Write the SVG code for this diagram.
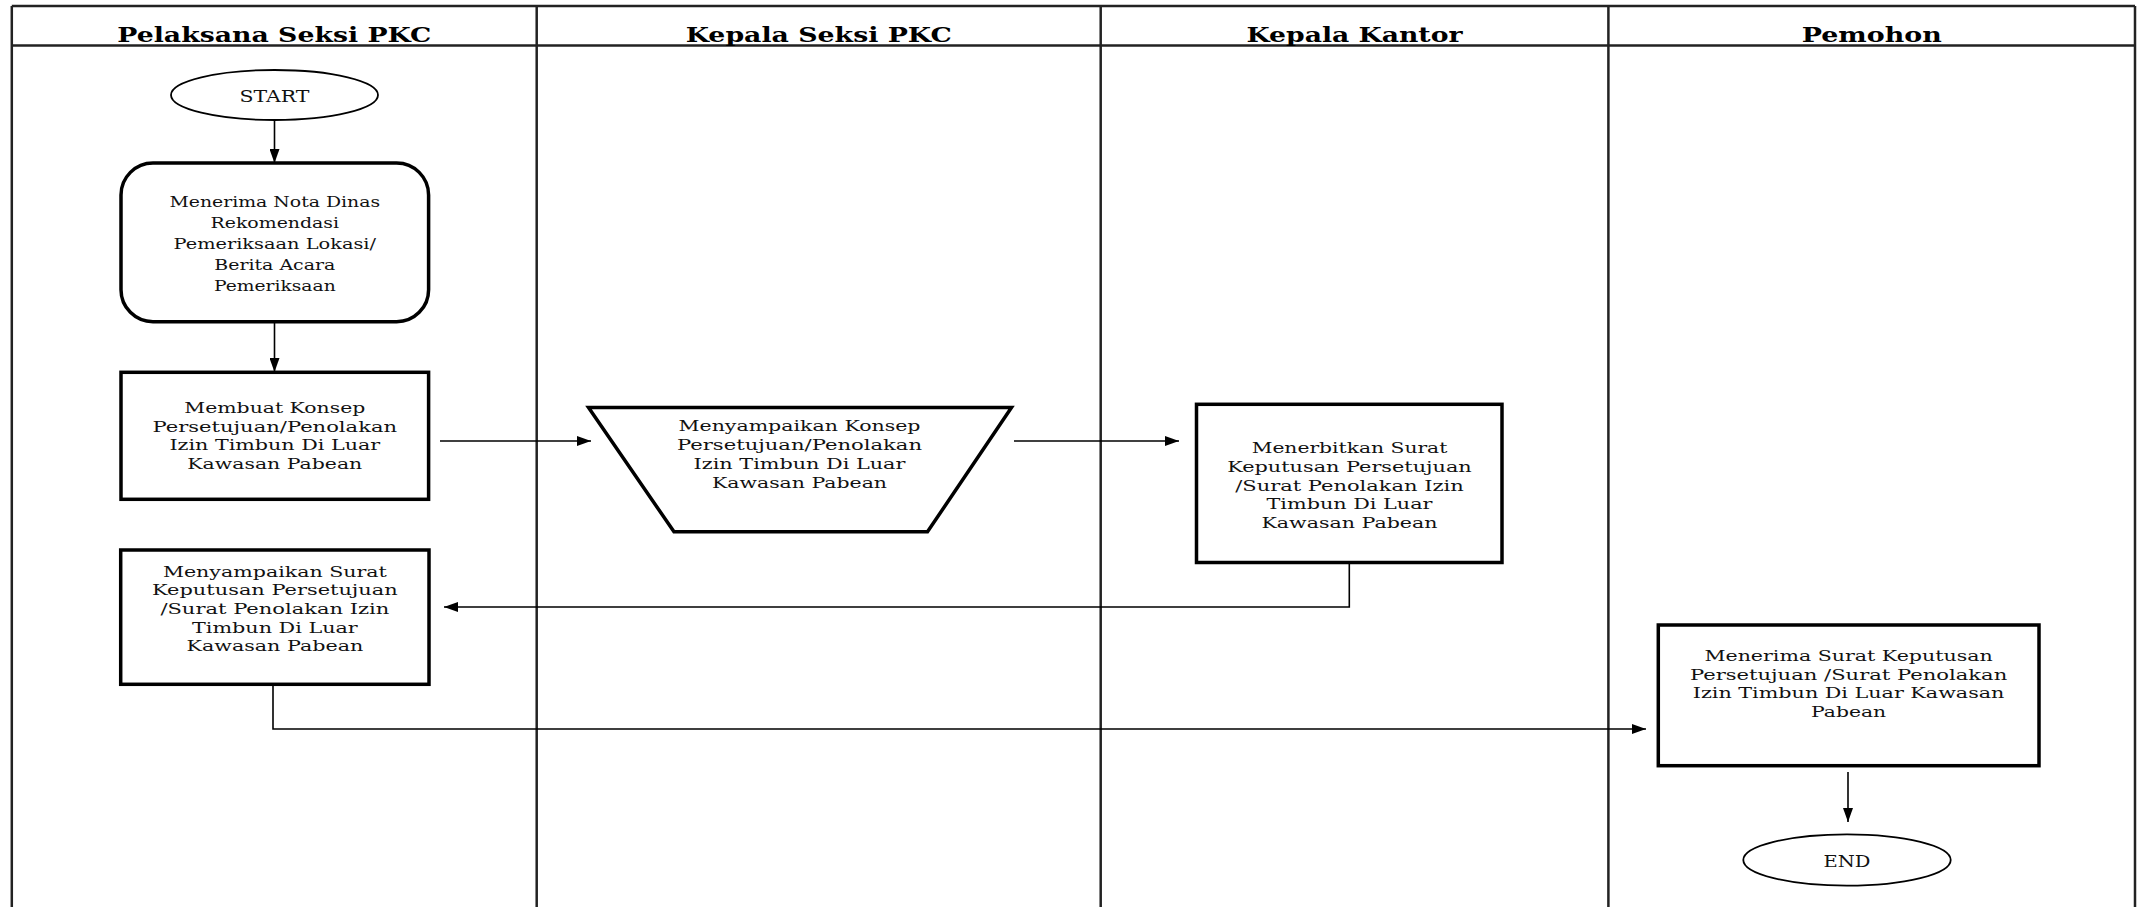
<svg xmlns="http://www.w3.org/2000/svg" width="2141" height="907" viewBox="0 0 2141 907">
<style>
.frame{stroke:#222;stroke-width:2.5;fill:none}
.hdr{font-family:"DejaVu Serif","Liberation Serif",serif;font-weight:bold;font-size:20px;text-anchor:middle;fill:#000}
.t{font-family:"DejaVu Serif","Liberation Serif",serif;font-size:15px;text-anchor:middle;fill:#111}
.term{font-family:"DejaVu Serif","Liberation Serif",serif;font-size:17px;text-anchor:middle;fill:#111}
.box{fill:#fff;stroke:#000;stroke-width:3.5;stroke-linejoin:miter}
.ell{fill:#fff;stroke:#000;stroke-width:1.8}
.conn{fill:none;stroke:#000;stroke-width:1.6}
</style>
<defs>
<marker id="arr" viewBox="0 0 14 10" markerWidth="14" markerHeight="10" refX="14" refY="5" orient="auto" markerUnits="userSpaceOnUse">
<path d="M0,0 L14,5 L0,10 z" fill="#000"/>
</marker>
</defs>
<rect width="2141" height="907" fill="#fff"/>
<g id="lanes">
<line class="frame" x1="11.8" y1="6" x2="2135" y2="6"/>
<line class="frame" x1="11.8" y1="45.5" x2="2135" y2="45.5"/>
<line class="frame" x1="11.8" y1="6" x2="11.8" y2="907"/>
<line class="frame" x1="536.7" y1="6" x2="536.7" y2="907"/>
<line class="frame" x1="1100.7" y1="6" x2="1100.7" y2="907"/>
<line class="frame" x1="1608.4" y1="6" x2="1608.4" y2="907"/>
<line class="frame" x1="2135" y1="6" x2="2135" y2="907"/>
<text class="hdr" x="274.3" y="41.5" textLength="314" lengthAdjust="spacingAndGlyphs">Pelaksana Seksi PKC</text>
<text class="hdr" x="818.7" y="41.5" textLength="266" lengthAdjust="spacingAndGlyphs">Kepala Seksi PKC</text>
<text class="hdr" x="1354.5" y="41.5" textLength="216" lengthAdjust="spacingAndGlyphs">Kepala Kantor</text>
<text class="hdr" x="1871.7" y="41.5" textLength="140" lengthAdjust="spacingAndGlyphs">Pemohon</text>
</g>
<g id="connectors">
<line class="conn" x1="274.5" y1="120" x2="274.5" y2="163" marker-end="url(#arr)"/>
<line class="conn" x1="274.5" y1="322" x2="274.5" y2="372" marker-end="url(#arr)"/>
<line class="conn" x1="440" y1="441" x2="591" y2="441" marker-end="url(#arr)"/>
<line class="conn" x1="1014" y1="441" x2="1179" y2="441" marker-end="url(#arr)"/>
<polyline class="conn" points="1349.3,562.5 1349.3,607 444,607" marker-end="url(#arr)"/>
<polyline class="conn" points="273,684 273,729 1646,729" marker-end="url(#arr)"/>
<line class="conn" x1="1848" y1="772" x2="1848" y2="822" marker-end="url(#arr)"/>
</g>
<g id="start">
<ellipse class="ell" cx="274.5" cy="95" rx="103.5" ry="25"/>
<text class="term" x="274.5" y="101.5" textLength="70" lengthAdjust="spacingAndGlyphs">START</text>
</g>
<g id="n1">
<rect class="box" x="121" y="163" width="307.6" height="158.7" rx="32" ry="32"/>
<text class="t" x="274.8" y="206.5" textLength="210.7" lengthAdjust="spacingAndGlyphs">Menerima Nota Dinas</text>
<text class="t" x="274.8" y="227.5" textLength="128.6" lengthAdjust="spacingAndGlyphs">Rekomendasi</text>
<text class="t" x="274.8" y="249" textLength="202.5" lengthAdjust="spacingAndGlyphs">Pemeriksaan Lokasi/</text>
<text class="t" x="274.8" y="270" textLength="121" lengthAdjust="spacingAndGlyphs">Berita Acara</text>
<text class="t" x="274.8" y="291" textLength="121.8" lengthAdjust="spacingAndGlyphs">Pemeriksaan</text>
</g>
<g id="n2">
<rect class="box" x="121" y="372.3" width="307.6" height="127"/>
<text class="t" x="274.8" y="413" textLength="181" lengthAdjust="spacingAndGlyphs">Membuat Konsep</text>
<text class="t" x="274.8" y="431.5" textLength="244.6" lengthAdjust="spacingAndGlyphs">Persetujuan/Penolakan</text>
<text class="t" x="274.8" y="450" textLength="210.7" lengthAdjust="spacingAndGlyphs">Izin Timbun Di Luar</text>
<text class="t" x="274.8" y="468.5" textLength="175" lengthAdjust="spacingAndGlyphs">Kawasan Pabean</text>
</g>
<g id="n3">
<polygon class="box" points="588.5,407.5 1011.5,407.5 927.5,531.8 674,531.8"/>
<text class="t" x="799.5" y="430.5" textLength="242" lengthAdjust="spacingAndGlyphs">Menyampaikan Konsep</text>
<text class="t" x="799.5" y="449.5" textLength="245" lengthAdjust="spacingAndGlyphs">Persetujuan/Penolakan</text>
<text class="t" x="799.5" y="468.5" textLength="211.8" lengthAdjust="spacingAndGlyphs">Izin Timbun Di Luar</text>
<text class="t" x="799.5" y="487.5" textLength="175" lengthAdjust="spacingAndGlyphs">Kawasan Pabean</text>
</g>
<g id="n4">
<rect class="box" x="1196.5" y="404.3" width="305.5" height="158.2"/>
<text class="t" x="1349.5" y="453" textLength="195.7" lengthAdjust="spacingAndGlyphs">Menerbitkan Surat</text>
<text class="t" x="1349.5" y="472" textLength="244.6" lengthAdjust="spacingAndGlyphs">Keputusan Persetujuan</text>
<text class="t" x="1349.5" y="490.5" textLength="228.6" lengthAdjust="spacingAndGlyphs">/Surat Penolakan Izin</text>
<text class="t" x="1349.5" y="509" textLength="166" lengthAdjust="spacingAndGlyphs">Timbun Di Luar</text>
<text class="t" x="1349.5" y="527.5" textLength="176" lengthAdjust="spacingAndGlyphs">Kawasan Pabean</text>
</g>
<g id="n5">
<rect class="box" x="120.7" y="550" width="308.3" height="134.3"/>
<text class="t" x="274.9" y="576.7" textLength="224" lengthAdjust="spacingAndGlyphs">Menyampaikan Surat</text>
<text class="t" x="274.9" y="595.2" textLength="245.7" lengthAdjust="spacingAndGlyphs">Keputusan Persetujuan</text>
<text class="t" x="274.9" y="614" textLength="229" lengthAdjust="spacingAndGlyphs">/Surat Penolakan Izin</text>
<text class="t" x="274.9" y="632.5" textLength="165.7" lengthAdjust="spacingAndGlyphs">Timbun Di Luar</text>
<text class="t" x="274.9" y="650.7" textLength="176.7" lengthAdjust="spacingAndGlyphs">Kawasan Pabean</text>
</g>
<g id="n6">
<rect class="box" x="1658.3" y="625" width="380.7" height="140.7"/>
<text class="t" x="1848.6" y="661" textLength="288.3" lengthAdjust="spacingAndGlyphs">Menerima Surat Keputusan</text>
<text class="t" x="1848.6" y="679.5" textLength="317.3" lengthAdjust="spacingAndGlyphs">Persetujuan /Surat Penolakan</text>
<text class="t" x="1848.6" y="698" textLength="311.7" lengthAdjust="spacingAndGlyphs">Izin Timbun Di Luar Kawasan</text>
<text class="t" x="1848.6" y="716.7" textLength="75" lengthAdjust="spacingAndGlyphs">Pabean</text>
</g>
<g id="end">
<ellipse class="ell" cx="1847" cy="860" rx="103.7" ry="25.7"/>
<text class="term" x="1847" y="866.5" textLength="47" lengthAdjust="spacingAndGlyphs">END</text>
</g>
</svg>
